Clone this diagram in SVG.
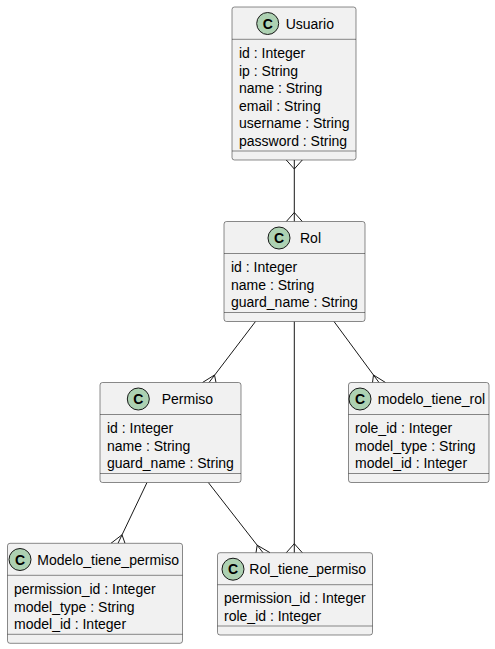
<svg xmlns="http://www.w3.org/2000/svg" width="495" height="649" viewBox="0 0 495 649">
  <style>
    .box { fill: #F1F1F1; stroke: #181818; stroke-width: 0.5; }
    .sep { stroke: #181818; stroke-width: 0.5; }
    .badge { fill: #ADD1B2; stroke: #181818; stroke-width: 1; }
    .badge-letter { font-family: "Liberation Sans", Arial, sans-serif; font-size: 14px; font-weight: bold; fill: #000; text-anchor: middle; }
    .title { font-family: "Liberation Sans", Arial, sans-serif; font-size: 14px; fill: #000; }
    .attr { font-family: "Liberation Sans", Arial, sans-serif; font-size: 14px; fill: #000; }
    .link { fill: none; stroke: #181818; stroke-width: 1; }
  </style>
  <rect width="495" height="649" fill="#FFFFFF"/>

  <!-- connectors with crow's-foot ends -->
  <g id="connectors">
    <!-- Usuario - Rol -->
    <path class="link" d="M294.3,160 L294.3,221.5"/>
    <path class="link" d="M286.3,160 L294.3,169 L302.3,160"/>
    <path class="link" d="M286.3,221.5 L294.3,212.5 L302.3,221.5"/>
    <!-- Rol - Permiso -->
    <path class="link" d="M255.5,321.5 L209,382.5"/>
    <path class="link" d="M202.5,382.5 L214.5,375 L216,382.5"/>
    <!-- Rol - modelo_tiene_rol -->
    <path class="link" d="M334,321.5 L379,382.5"/>
    <path class="link" d="M372.5,382.5 L373.5,375 L385.5,382.5"/>
    <!-- Rol - Rol_tiene_permiso -->
    <path class="link" d="M294.3,321.5 L294.3,552.7"/>
    <path class="link" d="M286.3,552.7 L294.3,543.7 L302.3,552.7"/>
    <!-- Permiso - Modelo_tiene_permiso -->
    <path class="link" d="M147,482.5 L118,543.3"/>
    <path class="link" d="M111,543.3 L122,534.8 L125,543.3"/>
    <!-- Permiso - Rol_tiene_permiso -->
    <path class="link" d="M208.3,482.5 L263,552.7"/>
    <path class="link" d="M256,552.7 L257.2,545.2 L270,552.7"/>
  </g>

  <g id="Usuario">
    <rect class="box" x="232" y="7" width="124" height="153" rx="2.5"/>
    <circle class="badge" cx="267.7" cy="23.5" r="11"/>
    <text class="badge-letter" x="267.7" y="28.5">C</text>
    <text class="title" x="285.7" y="28.5">Usuario</text>
    <line class="sep" x1="232" y1="39.3" x2="356" y2="39.3"/>
    <text class="attr" x="239" y="58">id : Integer</text>
    <text class="attr" x="239" y="75.5">ip : String</text>
    <text class="attr" x="239" y="93">name : String</text>
    <text class="attr" x="239" y="110.5">email : String</text>
    <text class="attr" x="239" y="128">username : String</text>
    <text class="attr" x="239" y="145.5">password : String</text>
    <line class="sep" x1="232" y1="151" x2="356" y2="151"/>
  </g>

  <g id="Rol">
    <rect class="box" x="224" y="221.5" width="141" height="100" rx="2.5"/>
    <circle class="badge" cx="279" cy="238" r="11"/>
    <text class="badge-letter" x="279" y="243">C</text>
    <text class="title" x="300" y="243">Rol</text>
    <line class="sep" x1="224" y1="253.5" x2="365" y2="253.5"/>
    <text class="attr" x="231" y="272">id : Integer</text>
    <text class="attr" x="231" y="289.5">name : String</text>
    <text class="attr" x="231" y="307">guard_name : String</text>
    <line class="sep" x1="224" y1="312.5" x2="365" y2="312.5"/>
  </g>

  <g id="Permiso">
    <rect class="box" x="100" y="382.5" width="141" height="100" rx="2.5"/>
    <circle class="badge" cx="138.3" cy="399" r="11"/>
    <text class="badge-letter" x="138.3" y="404">C</text>
    <text class="title" x="161.7" y="404">Permiso</text>
    <line class="sep" x1="100" y1="414.5" x2="241" y2="414.5"/>
    <text class="attr" x="107" y="433">id : Integer</text>
    <text class="attr" x="107" y="450.5">name : String</text>
    <text class="attr" x="107" y="468">guard_name : String</text>
    <line class="sep" x1="100" y1="473.5" x2="241" y2="473.5"/>
  </g>

  <g id="modelo_tiene_rol">
    <rect class="box" x="348.5" y="382.5" width="140.5" height="100" rx="2.5"/>
    <circle class="badge" cx="360" cy="399" r="11"/>
    <text class="badge-letter" x="360" y="404">C</text>
    <text class="title" x="377.7" y="404">modelo_tiene_rol</text>
    <line class="sep" x1="348.5" y1="414.5" x2="489" y2="414.5"/>
    <text class="attr" x="355" y="433">role_id : Integer</text>
    <text class="attr" x="355" y="450.5">model_type : String</text>
    <text class="attr" x="355" y="468">model_id : Integer</text>
    <line class="sep" x1="348.5" y1="473.5" x2="489" y2="473.5"/>
  </g>

  <g id="Modelo_tiene_permiso">
    <rect class="box" x="7.5" y="543.3" width="175" height="100" rx="2.5"/>
    <circle class="badge" cx="20" cy="559.5" r="11"/>
    <text class="badge-letter" x="20" y="564.5">C</text>
    <text class="title" x="37.3" y="564.5">Modelo_tiene_permiso</text>
    <line class="sep" x1="7.5" y1="575.3" x2="182.5" y2="575.3"/>
    <text class="attr" x="14" y="594">permission_id : Integer</text>
    <text class="attr" x="14" y="611.5">model_type : String</text>
    <text class="attr" x="14" y="629">model_id : Integer</text>
    <line class="sep" x1="7.5" y1="634.3" x2="182.5" y2="634.3"/>
  </g>

  <g id="Rol_tiene_permiso">
    <rect class="box" x="217.5" y="552.7" width="155" height="82.3" rx="2.5"/>
    <circle class="badge" cx="233" cy="569.2" r="11"/>
    <text class="badge-letter" x="233" y="574.2">C</text>
    <text class="title" x="249.3" y="574.2">Rol_tiene_permiso</text>
    <line class="sep" x1="217.5" y1="584.7" x2="372.5" y2="584.7"/>
    <text class="attr" x="224" y="603.3">permission_id : Integer</text>
    <text class="attr" x="224" y="620.8">role_id : Integer</text>
    <line class="sep" x1="217.5" y1="626" x2="372.5" y2="626"/>
  </g>
</svg>
